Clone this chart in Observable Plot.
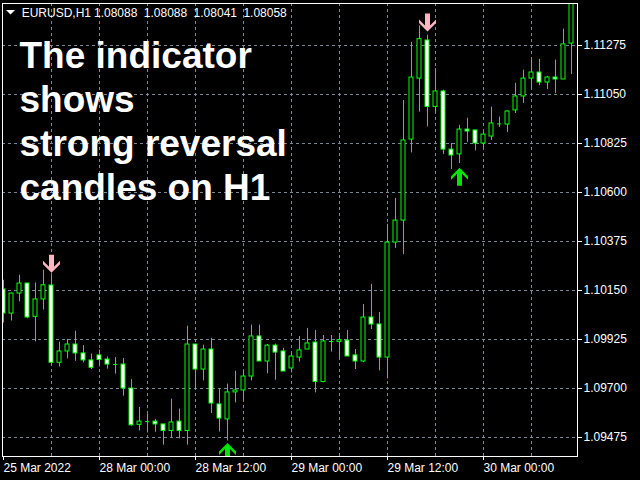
<!DOCTYPE html>
<html><head><meta charset="utf-8">
<script src="https://cdn.jsdelivr.net/npm/d3@7"></script>
<script src="https://cdn.jsdelivr.net/npm/@observablehq/plot@0.6"></script>
<style>
html,body{margin:0;padding:0;background:#000;}
#chart{width:640px;height:480px;overflow:hidden;}
</style></head><body><div id="chart"></div>
<script>
// EURUSD H1 candles (index 0 = 25 Mar 2022 12:00)
const open = [1.10155,1.10044,1.10136,1.10182,1.10029,1.10109,1.10173,1.09818,1.09870,1.09902,
1.09861,1.09829,1.09852,1.09833,1.09812,1.09810,1.09700,1.09533,1.09548,1.09548,
1.09535,1.09505,1.09548,1.09505,1.09902,1.09787,1.09879,1.09627,1.09558,1.09682,
1.09691,1.09755,1.09939,1.09824,1.09897,1.09870,1.09792,1.09842,1.09879,1.09911,
1.09730,1.09916,1.09914,1.09920,1.09852,1.09824,1.10026,1.09994,1.09842,1.10370,
1.10471,1.10843,1.11123,1.11298,1.10993,1.11064,1.10797,1.10775,1.10889,1.10885,
1.10825,1.10857,1.10915,1.10912,1.10977,1.11041,1.11123,1.11151,1.11105,1.11128,
1.11119,1.11284];
const high = [1.10197,1.10138,1.10220,1.10184,1.10185,1.10243,1.10216,1.09913,1.09925,1.09963,
1.09897,1.09858,1.09876,1.09845,1.09842,1.09838,1.09741,1.09613,1.09581,1.09558,
1.09535,1.09651,1.09605,1.09986,1.09902,1.09899,1.09930,1.09695,1.09720,1.09779,
1.09781,1.09991,1.09991,1.09902,1.09904,1.09884,1.09861,1.09939,1.09976,1.09966,
1.09943,1.09943,1.09945,1.09966,1.09879,1.10086,1.10178,1.10049,1.10454,1.10572,
1.11022,1.11289,1.11365,1.11322,1.11169,1.11070,1.10825,1.10908,1.10941,1.10885,
1.10876,1.10992,1.10946,1.10975,1.11101,1.11162,1.11208,1.11211,1.11133,1.11208,
1.11350,1.11506];
const low = [1.10001,1.10010,1.10098,1.10021,1.09914,1.10060,1.09807,1.09799,1.09836,1.09825,
1.09818,1.09787,1.09799,1.09789,1.09766,1.09665,1.09527,1.09505,1.09496,1.09499,
1.09440,1.09475,1.09469,1.09440,1.09692,1.09735,1.09585,1.09501,1.09459,1.09634,
1.09643,1.09735,1.09824,1.09768,1.09738,1.09778,1.09772,1.09821,1.09879,1.09680,
1.09726,1.09868,1.09837,1.09847,1.09787,1.09819,1.09971,1.09781,1.09744,1.10343,
1.10315,1.10782,1.10970,1.10901,1.10970,1.10775,1.10706,1.10733,1.10830,1.10791,
1.10802,1.10839,1.10899,1.10876,1.10963,1.11009,1.11078,1.11091,1.11073,1.11055,
1.11119,1.11142];
const close = [1.10044,1.10136,1.10182,1.10026,1.10109,1.10174,1.09818,1.09870,1.09902,1.09861,
1.09829,1.09795,1.09831,1.09810,1.09810,1.09700,1.09531,1.09548,1.09548,1.09535,
1.09505,1.09544,1.09505,1.09902,1.09787,1.09879,1.09631,1.09562,1.09682,1.09691,
1.09755,1.09939,1.09824,1.09897,1.09865,1.09778,1.09847,1.09875,1.09907,1.09730,
1.09916,1.09916,1.09922,1.09847,1.09824,1.10026,1.09994,1.09842,1.10370,1.10471,
1.10839,1.11128,1.11304,1.10993,1.11064,1.10797,1.10770,1.10889,1.10880,1.10825,
1.10866,1.10917,1.10915,1.10972,1.11041,1.11123,1.11151,1.11105,1.11128,1.11119,
1.11280,1.11497];

const timeTickIndex = [0,12,24,36,48,60];
const timeTickLabels = ["25 Mar 2022","28 Mar 00:00","28 Mar 12:00","29 Mar 00:00","29 Mar 12:00","30 Mar 00:00"];
const timeGridIndex = [6,12,18,24,30,36,42,48,54,60,66];
const priceTicks = [1.09475,1.09700,1.09925,1.10150,1.10375,1.10600,1.10825,1.11050,1.11275];

// indicator signals
const sellIndex = [6,53];
const sellPrice = [1.10273,1.11381];
const buyIndex = [28,57];
const buyPrice = [1.09408,1.10672];

const headerSymbol = "EURUSD,H1";
const headerValues = ["1.08088","1.08088","1.08041","1.08058"];
const titleLines = ["The indicator","shows","strong reversal","candles on H1"];

const candles = open.map((o,i)=>({i, open:o, high:high[i], low:low[i], close:close[i]}));
const sells = sellIndex.map((i,k)=>({i, price:sellPrice[k]}));
const buys = buyIndex.map((i,k)=>({i, price:buyPrice[k]}));

const GREEN = "#00ff00";
const GRID = "#778899";
const FONT = "'Liberation Sans', Arial, sans-serif";

const arrowUp = {draw(c){c.moveTo(0,-9);c.lineTo(8.5,-0.5);c.lineTo(8.5,3);c.lineTo(2.5,-3);c.lineTo(2.5,9);c.lineTo(-2.5,9);c.lineTo(-2.5,-3);c.lineTo(-8.5,3);c.lineTo(-8.5,-0.5);c.closePath();}};
const arrowDown = {draw(c){c.moveTo(0,9);c.lineTo(8.5,0.5);c.lineTo(8.5,-3);c.lineTo(2.5,3);c.lineTo(2.5,-9);c.lineTo(-2.5,-9);c.lineTo(-2.5,3);c.lineTo(-8.5,-3);c.lineTo(-8.5,0.5);c.closePath();}};
const tri = {draw(c){c.moveTo(-4.5,-2);c.lineTo(4.5,-2);c.lineTo(0,2.5);c.closePath();}};

const isDoji = d => Math.abs(d.open - d.close) < 0.00002;

const chart = Plot.plot({
  width: 640, height: 480,
  marginLeft: 2, marginRight: 63, marginTop: 3, marginBottom: 24,
  style: {background: "#000", color: "white", fontFamily: FONT, fontSize: "12px"},
  x: {type: "linear", domain: [-0.125, 71.75], axis: null},
  y: {domain: [1.0938776, 1.1146786], axis: null},
  marks: [
    Plot.ruleY(priceTicks, {stroke: GRID, strokeDasharray: "3,3"}),
    Plot.ruleX(timeGridIndex, {stroke: GRID, strokeDasharray: "3,3"}),
    Plot.text([titleLines.join("\n")], {text: d => d, frameAnchor: "top-left", textAnchor: "start", lineAnchor: "top",
      fontSize: 37, fontWeight: "bold", lineHeight: 44/37, fill: "white", fontFamily: FONT, dx: 17, dy: 33.2}),
    Plot.dot([0], {frameAnchor: "top-left", dx: 8, dy: 8.5, symbol: tri, fill: "white", stroke: null}),
    Plot.text([headerSymbol], {text: d => d, frameAnchor: "top-left", textAnchor: "start", lineAnchor: "top",
      fontSize: 12, fill: "white", dx: 19.2, dy: 4.7}),
    ...headerValues.map((v, k) => Plot.text([v], {text: d => d, frameAnchor: "top-left", textAnchor: "start", lineAnchor: "top",
      fontSize: 12, fill: "white", dx: 91.5 + 49.8 * k, dy: 4.7})),
    Plot.ruleX(candles, {x: "i", y1: "low", y2: "high", stroke: GREEN, clip: true}),
    Plot.rect(candles, {filter: d => d.close >= d.open && !isDoji(d), x1: d => d.i - 0.25, x2: d => d.i + 0.25,
      y1: "open", y2: "close", fill: "black", stroke: GREEN, clip: true}),
    Plot.rect(candles, {filter: d => d.close < d.open && !isDoji(d), x1: d => d.i - 0.25, x2: d => d.i + 0.25,
      y1: "open", y2: "close", fill: "white", stroke: GREEN, clip: true}),
    Plot.ruleY(candles, {filter: isDoji, y: "close", x1: d => d.i - 0.25, x2: d => d.i + 0.25, stroke: GREEN, clip: true}),
    Plot.dot(sells, {x: "i", y: "price", symbol: arrowDown, fill: "#ffb6c1", stroke: null, clip: true}),
    Plot.dot(buys, {x: "i", y: "price", symbol: arrowUp, fill: "#00e600", stroke: null, clip: true}),
    Plot.axisY(priceTicks, {anchor: "right", tickSize: 4, tickPadding: 2, tickFormat: d3.format(".5f"), fontSize: 12, label: null}),
    Plot.axisX(timeTickIndex, {anchor: "bottom", tickSize: 4, tickPadding: 3, textAnchor: "start",
      tickFormat: d => timeTickLabels[timeTickIndex.indexOf(d)], fontSize: 12, label: null}),
    Plot.frame({stroke: "white"})
  ]
});
document.getElementById("chart").appendChild(chart);
</script>
</body></html>
